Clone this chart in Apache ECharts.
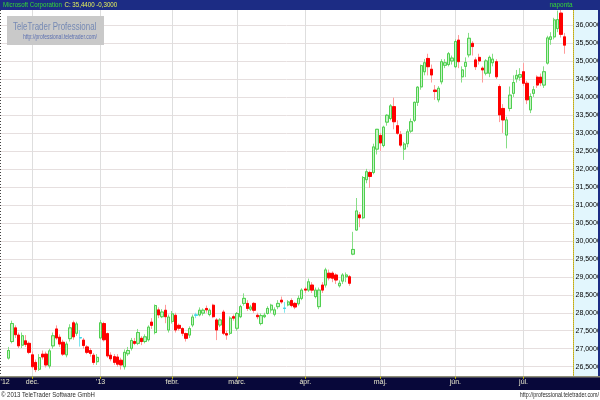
<!DOCTYPE html>
<html><head><meta charset="utf-8">
<script src="https://cdn.jsdelivr.net/npm/echarts@6/dist/echarts.min.js"></script>
<style>html,body{margin:0;padding:0;background:#fff}#c{width:600px;height:400px}</style>
</head><body><div id="c"></div>
<script>
// ---- data ----
const dates = [
'2012-11-21','2012-11-23','2012-11-26','2012-11-27','2012-11-28','2012-11-29','2012-11-30',
'2012-12-03','2012-12-04','2012-12-05','2012-12-06','2012-12-07','2012-12-10','2012-12-11','2012-12-12','2012-12-13','2012-12-14','2012-12-17','2012-12-18','2012-12-19','2012-12-20','2012-12-21','2012-12-24','2012-12-26','2012-12-27','2012-12-28','2012-12-31',
'2013-01-02','2013-01-03','2013-01-04','2013-01-07','2013-01-08','2013-01-09','2013-01-10','2013-01-11','2013-01-14','2013-01-15','2013-01-16','2013-01-17','2013-01-18','2013-01-22','2013-01-23','2013-01-24','2013-01-25','2013-01-28','2013-01-29','2013-01-30','2013-01-31',
'2013-02-01','2013-02-04','2013-02-05','2013-02-06','2013-02-07','2013-02-08','2013-02-11','2013-02-12','2013-02-13','2013-02-14','2013-02-15','2013-02-19','2013-02-20','2013-02-21','2013-02-22','2013-02-25','2013-02-26','2013-02-27','2013-02-28',
'2013-03-01','2013-03-04','2013-03-05','2013-03-06','2013-03-07','2013-03-08','2013-03-11','2013-03-12','2013-03-13','2013-03-14','2013-03-15','2013-03-18','2013-03-19','2013-03-20','2013-03-21','2013-03-22','2013-03-25','2013-03-26','2013-03-27','2013-03-28',
'2013-04-01','2013-04-02','2013-04-03','2013-04-04','2013-04-05','2013-04-08','2013-04-09','2013-04-10','2013-04-11','2013-04-12','2013-04-15','2013-04-16','2013-04-17','2013-04-18','2013-04-19','2013-04-22','2013-04-23','2013-04-24','2013-04-25','2013-04-26','2013-04-29','2013-04-30',
'2013-05-01','2013-05-02','2013-05-03','2013-05-06','2013-05-07','2013-05-08','2013-05-09','2013-05-10','2013-05-13','2013-05-14','2013-05-15','2013-05-16','2013-05-17','2013-05-20','2013-05-21','2013-05-22','2013-05-23','2013-05-24','2013-05-28','2013-05-29','2013-05-30','2013-05-31',
'2013-06-03','2013-06-04','2013-06-05','2013-06-06','2013-06-07','2013-06-10','2013-06-11','2013-06-12','2013-06-13','2013-06-14','2013-06-17','2013-06-18','2013-06-19','2013-06-20','2013-06-21','2013-06-24','2013-06-25','2013-06-26','2013-06-27','2013-06-28',
'2013-07-01','2013-07-02','2013-07-03','2013-07-05','2013-07-08','2013-07-09','2013-07-10','2013-07-11','2013-07-12','2013-07-15','2013-07-16','2013-07-17','2013-07-18'
];
const opens = [
26.74,27.20,27.58,27.38,27.10,27.22,27.15,
26.83,26.62,26.43,26.85,26.85,26.52,27.08,27.55,27.32,27.18,26.83,27.28,27.72,27.43,27.30,27.24,27.05,26.95,26.82,26.64,
27.30,27.70,27.42,26.82,26.78,26.77,26.68,26.50,26.86,27.01,27.20,27.15,27.29,27.20,27.25,27.74,27.45,28.08,27.89,28.07,27.52,
27.76,27.93,27.65,27.56,27.42,27.38,27.66,27.93,27.94,27.99,28.12,27.95,28.21,27.80,27.66,28.02,27.42,27.43,27.89,
27.57,27.89,28.26,28.26,28.10,28.26,27.93,27.70,27.89,27.98,28.08,27.96,28.17,28.35,28.13,28.22,28.34,28.26,28.25,28.40,
28.66,28.63,28.77,28.45,28.17,28.77,28.77,29.10,29.10,29.05,28.75,28.88,29.00,29.00,29.63,30.30,30.72,30.64,31.70,31.90,31.90,32.55,
32.93,32.65,33.30,33.40,33.73,33.20,32.95,32.55,32.70,33.05,33.35,33.85,34.28,34.70,35.07,34.77,34.19,33.92,34.42,34.88,34.90,35.00,
34.84,35.58,34.56,34.85,35.17,35.49,35.03,35.10,34.80,34.66,34.66,34.95,34.98,34.29,33.68,32.94,33.68,34.10,34.50,34.55,
34.70,34.38,33.64,34.10,34.55,34.55,34.33,34.94,35.60,35.67,35.90,36.33,35.67
];
const closes = [
26.95,27.70,27.39,27.08,27.36,27.12,26.90,
26.50,26.42,26.75,26.77,26.55,26.94,27.36,27.30,27.13,26.85,27.13,27.58,27.33,27.69,27.31,27.09,26.90,26.87,26.62,26.76,
27.72,27.25,26.80,26.72,26.62,26.57,26.55,26.90,26.95,27.23,27.15,27.45,27.20,27.33,27.60,27.65,28.20,27.94,28.02,27.89,27.88,
27.97,27.52,27.57,27.43,27.29,27.56,27.88,27.94,28.07,28.07,28.08,28.07,27.89,27.52,27.80,27.43,27.38,27.85,27.85,
27.98,28.17,28.40,28.12,28.16,28.07,27.89,27.92,27.93,28.12,28.21,28.08,28.26,28.30,28.12,28.30,28.20,28.16,28.40,28.63,
28.63,28.86,28.63,28.63,28.63,28.63,29.19,28.97,28.96,28.91,28.82,29.05,29.05,28.82,29.76,30.83,30.64,31.76,31.92,31.79,32.61,33.10,
32.72,33.16,33.49,33.75,33.31,32.99,32.66,32.69,33.03,33.31,33.85,34.27,34.87,34.95,34.84,34.61,34.15,34.24,34.98,34.95,35.20,35.08,
35.54,34.98,34.75,34.96,35.63,35.40,34.84,35.00,34.75,35.00,35.10,35.05,34.56,33.50,33.36,33.36,34.05,34.40,34.60,34.62,
34.38,33.92,34.01,34.20,34.33,34.39,34.70,35.64,35.67,36.14,36.15,35.74,35.44
];
const lows = [
26.70,27.15,27.30,27.02,27.02,27.05,26.85,
26.45,26.35,26.38,26.70,26.48,26.45,27.00,27.25,27.05,26.80,26.76,27.20,27.25,27.36,27.06,27.00,26.85,26.78,26.55,26.55,
27.26,27.20,26.75,26.65,26.55,26.50,26.42,26.42,26.80,26.95,27.10,27.10,27.10,27.15,27.20,27.55,27.40,27.85,27.85,27.71,27.45,
27.70,27.45,27.50,27.35,27.20,27.30,27.60,27.85,27.90,27.92,28.00,27.90,27.85,27.24,27.60,27.38,27.25,27.38,27.78,
27.50,27.85,28.20,28.05,28.05,28.00,27.82,27.65,27.85,27.95,28.00,27.90,28.10,28.25,28.00,28.18,28.15,28.10,28.20,28.35,
28.55,28.58,28.55,28.40,28.10,28.55,28.70,28.90,28.85,28.80,28.70,28.80,28.85,28.75,29.60,30.28,30.38,30.60,31.60,31.47,31.85,32.40,
32.50,32.60,33.20,33.35,33.10,32.95,32.60,32.25,32.60,33.00,33.30,33.75,34.20,34.60,34.60,34.40,33.92,33.85,34.35,34.80,34.85,34.90,
34.80,34.80,34.40,34.55,35.10,35.15,34.75,34.90,34.40,34.60,34.55,34.85,34.50,33.30,33.00,32.57,33.60,34.00,34.40,34.45,
34.30,33.80,33.55,34.00,34.25,34.30,34.25,34.90,35.45,35.60,35.80,35.65,35.20
];
const highs = [
27.05,27.78,27.65,27.45,27.45,27.38,27.20,
26.92,26.70,26.85,26.95,26.92,27.00,27.45,27.65,27.40,27.25,27.20,27.68,27.78,27.75,27.52,27.30,27.10,27.02,26.88,26.85,
27.80,27.75,27.45,26.90,26.85,26.85,26.75,26.98,27.05,27.30,27.30,27.55,27.35,27.40,27.65,27.85,28.23,28.15,28.10,28.22,27.95,
28.05,28.00,27.70,27.60,27.45,27.62,27.95,28.00,28.15,28.12,28.20,28.12,28.25,27.85,27.85,28.08,27.50,27.90,27.95,
28.02,28.22,28.54,28.35,28.22,28.30,28.00,27.98,28.00,28.18,28.25,28.15,28.35,28.45,28.30,28.35,28.40,28.30,28.48,28.68,
28.72,28.95,28.85,28.70,28.70,28.85,29.25,29.20,29.15,29.10,28.90,29.10,29.12,29.05,30.25,31.19,30.80,31.80,32.00,31.95,32.70,33.11,
33.00,33.20,33.52,33.80,33.98,33.35,33.05,32.75,33.10,33.40,33.87,34.30,34.90,35.05,35.20,34.90,34.33,34.30,35.05,35.05,35.25,35.15,
35.60,35.72,34.85,35.10,35.78,35.55,35.10,35.20,34.85,35.05,35.15,35.20,35.05,34.35,33.80,33.45,34.29,34.60,34.75,34.80,
34.94,34.45,34.10,34.30,34.60,34.65,34.85,35.70,35.80,36.20,36.40,36.43,35.78
];
const tickDates  = ['2012-12-03','2013-01-02','2013-02-01','2013-03-01','2013-04-01','2013-05-01','2013-06-03','2013-07-01'];
const tickLabels = ['dec.',"'13",'febr.','márc.','ápr.','máj.','jún.','júl.'];
const firstLabel = "'12";
const yTicksMin = 26, yTicksMax = 36.5, yStep = 0.5;

// ---- build ----
const F = "'Liberation Sans',Arial,sans-serif";
const fmt = v => v.toFixed(4).replace('.', ',');
const cats = ['p0', 'p1'].concat(dates, ['p2', 'p3']);
const labelMap = { p1: firstLabel };
tickDates.forEach((d, i) => labelMap[d] = tickLabels[i]);
const tickSet = new Set(tickDates);
const EMPTY = ['-', '-', '-', '-'];
function buildData(bodyOnly, dojiWick, dojiBody) {
  return cats.map((c, i) => {
    const k = i - 2;
    if (k < 0 || k >= dates.length) return EMPTY;
    const o = opens[k], cl = closes[k];
    const v = bodyOnly ? [o, cl, Math.min(o, cl), Math.max(o, cl)] : [o, cl, lows[k], highs[k]];
    if (Math.abs(o - cl) < 0.015) {
      return { value: v, itemStyle: { color: '#a6f2f6', color0: '#a6f2f6', borderColor: bodyOnly ? dojiBody : dojiWick, borderColor0: bodyOnly ? dojiBody : dojiWick } };
    }
    return v;
  });
}
const last = closes[closes.length - 1];
const chg = last - closes[closes.length - 2];

const chart = echarts.init(document.getElementById('c'), null, { renderer: 'canvas' });
chart.setOption({
  animation: false,
  backgroundColor: '#ffffff',
  grid: { left: 0, right: 27, top: 7.0, bottom: 15.3, containLabel: false, outerBoundsMode: 'none' },
  xAxis: [
    { type: 'category', data: cats, boundaryGap: true,
      axisLine: { show: false }, axisTick: { show: false }, axisLabel: { show: false },
      splitLine: { show: true, alignWithLabel: true, interval: (i, v) => tickSet.has(v),
        lineStyle: { color: '#dedede', width: 1 } }, z: 0 },
    { type: 'category', data: cats, boundaryGap: true, position: 'bottom', offset: -8,
      axisLine: { show: false },
      axisTick: { show: true, alignWithLabel: true, length: 2, interval: (i, v) => tickSet.has(v),
        lineStyle: { color: '#d8c800', width: 1 } },
      axisLabel: { show: true, interval: (i, v) => v in labelMap, formatter: v => labelMap[v] || '',
        color: '#ecebd0', fontSize: 7, fontFamily: F, margin: 2 },
      splitLine: { show: false }, z: 10 }
  ],
  yAxis: [
    { type: 'value', position: 'right', min: yTicksMin, max: yTicksMax, interval: yStep,
      axisLine: { show: false }, axisTick: { show: false }, axisLabel: { show: false },
      splitLine: { show: true, lineStyle: { color: '#e6dfdf', width: 1 } }, z: 0 },
    { type: 'value', position: 'right', min: yTicksMin, max: yTicksMax, interval: yStep,
      axisLine: { show: true, lineStyle: { color: '#c4ac10', type: 'dotted', width: 1 } },
      axisTick: { show: false },
      axisLabel: { color: '#000', fontSize: 7, fontFamily: F, margin: 2.5, formatter: v => fmt(v),
        showMinLabel: false, showMaxLabel: false },
      splitLine: { show: false }, z: 4 }
  ],
  series: [
    { // wicks + bodies (light wick colours)
      type: 'candlestick', name: 'range', xAxisIndex: 0, yAxisIndex: 0, data: buildData(false, '#7fe6ee', '#3fd6e6'), barWidth: 2.8,
      itemStyle: { color: '#c6f3c6', color0: '#ff0000', borderColor: '#86de86', borderColor0: '#ff9a9a', borderWidth: 1 },
      markLine: { silent: true, symbol: 'none', animation: false,
        lineStyle: { opacity: 0 },
        label: { position: 'end', formatter: fmt(last), backgroundColor: '#ffff00', color: '#000',
          fontSize: 7, fontFamily: F, padding: [2, 1, 1, 1], distance: 1 },
        data: [{ yAxis: last }] }
    },
    { // bodies on top with stronger outline
      type: 'candlestick', name: 'body', xAxisIndex: 0, yAxisIndex: 0, data: buildData(true, '#7fe6ee', '#3fd6e6'), barWidth: 2.8,
      itemStyle: { color: '#c6f3c6', color0: '#ff0000', borderColor: '#4fcf4f', borderColor0: '#ff0000', borderWidth: 1 }
    }
  ],
  graphic: [
    { type: 'rect', z: 1, silent: true, shape: { x: 573, y: 10, width: 25, height: 367 }, style: { fill: '#e2f6fd' } },
    { type: 'line', z: 5, silent: true, shape: { x1: 0.5, y1: 10, x2: 0.5, y2: 376 }, style: { stroke: '#444', lineWidth: 1, lineDash: [1, 2] } },
    { type: 'rect', z: 5, silent: true, shape: { x: 0, y: 0, width: 600, height: 10 }, style: { fill: '#1c2c84' } },
    { type: 'rect', z: 5, silent: true, shape: { x: 598, y: 0, width: 2, height: 390 }, style: { fill: '#1c2c84' } },
    { type: 'rect', z: 5, silent: true, shape: { x: 0, y: 376, width: 600, height: 14 }, style: { fill: '#08083a' } },
    { type: 'rect', z: 5, silent: true, shape: { x: 0, y: 376, width: 600, height: 1.5 }, style: { fill: '#8e8e78' } },
    { type: 'rect', z: 5, silent: true, shape: { x: 0, y: 390, width: 600, height: 10 }, style: { fill: '#ffffff' } },
    { type: 'text', z: 6, silent: true, x: 3, y: 5, scaleX: 0.77,
      style: { text: '{a|Microsoft Corporation} {b|C: ' + fmt(last) + ' ' + fmt(chg) + '}', verticalAlign: 'middle',
        rich: { a: { fill: '#35d835', fontSize: 8, fontFamily: F }, b: { fill: '#e6f25a', fontSize: 8, fontFamily: F } } } },
    { type: 'text', z: 6, silent: true, x: 561, y: 5, scaleX: 0.8,
      style: { text: 'naponta', fill: '#35d835', fontSize: 8, fontFamily: F, align: 'center', verticalAlign: 'middle' } },
    { type: 'rect', z: 5, silent: true, shape: { x: 7, y: 16, width: 97, height: 29 }, style: { fill: '#c9c9c9' } },
    { type: 'text', z: 6, silent: true, x: 13, y: 27, scaleX: 0.72,
      style: { text: 'TeleTrader Professional', fill: '#7589b4', fontSize: 11, fontFamily: F, verticalAlign: 'middle' } },
    { type: 'text', z: 6, silent: true, x: 23, y: 37, scaleX: 0.77,
      style: { text: 'http://professional.teletrader.com/', fill: '#5b6fb0', fontSize: 6.5, fontFamily: F, verticalAlign: 'middle' } },
    { type: 'text', z: 6, silent: true, x: 1, y: 395, scaleX: 0.75,
      style: { text: '© 2013 TeleTrader Software GmbH', fill: '#2a2a2a', fontSize: 8, fontFamily: F, verticalAlign: 'middle' } },
    { type: 'text', z: 6, silent: true, x: 599, y: 395, scaleX: 0.67,
      style: { text: 'http://professional.teletrader.com/', fill: '#2a2a2a', fontSize: 8, fontFamily: F, align: 'right', verticalAlign: 'middle' } }
  ]
});
</script>
</body></html>
